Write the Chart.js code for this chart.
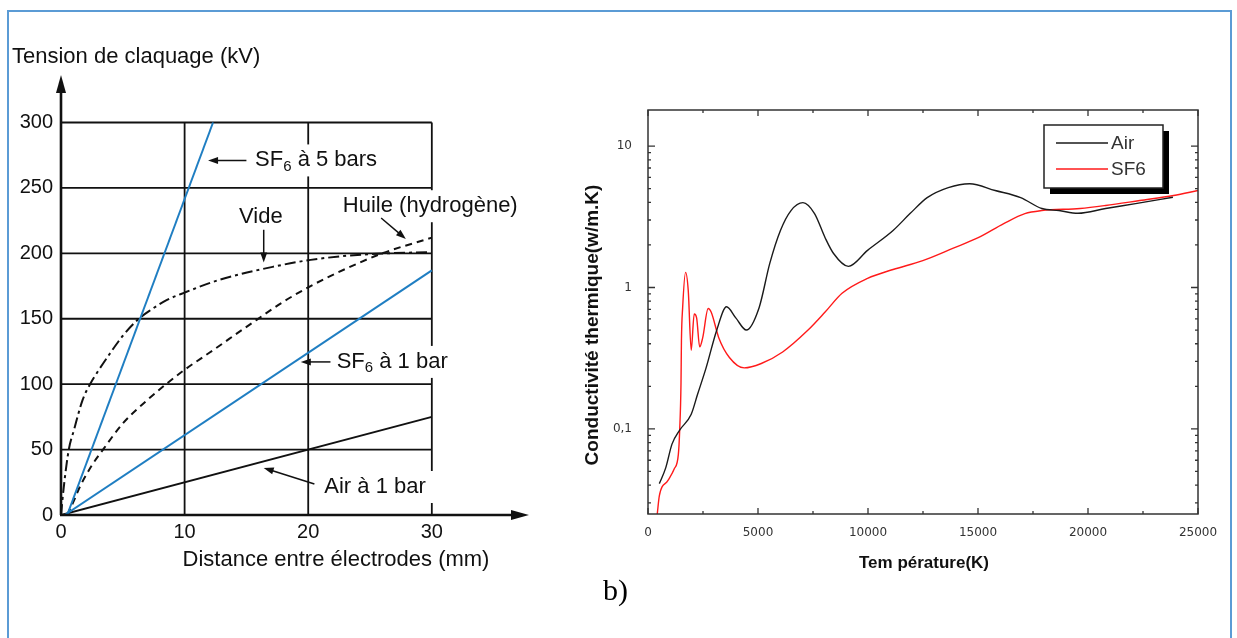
<!DOCTYPE html>
<html>
<head>
<meta charset="utf-8">
<script src="https://cdn.jsdelivr.net/npm/chart.js@4.4.1/dist/chart.umd.min.js"></script>
<style>
  body { margin: 0; background: #fff; }
  #wrap { position: relative; width: 1237px; height: 638px; overflow: hidden; }
  #frame { position: absolute; left: 7px; top: 10px; width: 1221px; height: 700px; border: 2px solid #5b9bd5; }
  canvas { position: absolute; top: 0; }
  #chartA { left: 0; }
  #chartB { left: 560px; }
</style>
</head>
<body>
<div id="wrap">
  <div id="frame"></div>
  <canvas id="chartA" width="560" height="638"></canvas>
  <canvas id="chartB" width="677" height="638"></canvas>
</div>
<script>
// --- a) tension de claquage ---
const distTicks = [0, 10, 20, 30];
const kvTicks = [0, 50, 100, 150, 200, 250, 300];

const sf65X = [0.5, 12.3];
const sf65Y = [0, 300];
const sf61X = [0.3, 30];
const sf61Y = [0, 187];
const air1X = [0, 30];
const air1Y = [0, 75];
const videX = [0, 0.22, 0.63, 1.05, 1.75, 2.35, 3, 4, 5, 6.3, 7.3, 8.5, 10, 12.9, 17.3, 20.2, 24.3, 30];
const videY = [0, 21, 50, 65, 88, 100, 110, 124, 137, 150, 157, 164, 170, 180, 190, 195, 199, 201];
const huileX = [0.5, 1, 1.5, 2.5, 3.4, 5, 7, 8.5, 10, 12, 15.8, 18, 20, 23, 26, 30];
const huileY = [0, 10, 21, 38, 50, 70, 88, 100, 111, 124, 149, 163, 174, 188, 200, 212];

// --- b) conductivité thermique ---
const tempTicks = [0, 5000, 10000, 15000, 20000, 25000];
const condTicks = [0.1, 1, 10];
const airT = [515, 805, 1090, 1440, 1965, 2250, 2640, 3120, 3570, 3990, 4470, 5050, 5535, 6020, 6500, 7045, 7570, 8050, 8435, 9110, 9980, 11140, 11910, 12690, 13650, 14620, 15780, 16940, 17900, 18680, 19545, 20800, 22160, 23860];
const airK = [0.041, 0.053, 0.078, 0.098, 0.127, 0.175, 0.27, 0.497, 0.73, 0.61, 0.50, 0.72, 1.48, 2.53, 3.5, 3.98, 3.33, 2.25, 1.74, 1.41, 1.83, 2.53, 3.33, 4.32, 5.09, 5.42, 4.85, 4.32, 3.62, 3.5, 3.35, 3.62, 3.92, 4.35];
const sf6T = [420, 515, 900, 1190, 1380, 1440, 1500, 1520, 1575, 1710, 1830, 1965, 2100, 2210, 2350, 2485, 2735, 2870, 3220, 3700, 4375, 5150, 6120, 7275, 8050, 8820, 9980, 11140, 12490, 13850, 15010, 16170, 17130, 17900, 19640, 20800, 22350, 23890, 25000];
const sf6K = [0.0249, 0.0336, 0.043, 0.052, 0.066, 0.098, 0.21, 0.42, 0.72, 1.28, 0.95, 0.36, 0.65, 0.61, 0.38, 0.44, 0.71, 0.67, 0.44, 0.32, 0.27, 0.29, 0.35, 0.50, 0.67, 0.91, 1.16, 1.34, 1.55, 1.89, 2.25, 2.83, 3.33, 3.5, 3.62, 3.80, 4.12, 4.47, 4.85];

const SANS = "'Liberation Sans', Arial, sans-serif";
const BLUE = '#1f7ec2';
const pts = (xs, ys) => xs.map((x, i) => ({ x: x, y: ys[i] }));

function arrow(ctx, x1, y1, x2, y2) {
    const a = Math.atan2(y2 - y1, x2 - x1);
    ctx.beginPath();
    ctx.moveTo(x1, y1);
    ctx.lineTo(x2 - 6 * Math.cos(a), y2 - 6 * Math.sin(a));
    ctx.stroke();
    ctx.beginPath();
    ctx.moveTo(x2, y2);
    ctx.lineTo(x2 - 10 * Math.cos(a) + 3.5 * Math.sin(a), y2 - 10 * Math.sin(a) - 3.5 * Math.cos(a));
    ctx.lineTo(x2 - 10 * Math.cos(a) - 3.5 * Math.sin(a), y2 - 10 * Math.sin(a) + 3.5 * Math.cos(a));
    ctx.closePath();
    ctx.fill();
}

// texte avec indice (SF6) ; draw=false -> mesure seulement
function richText(ctx, x, y, parts, draw) {
    let cx = x;
    parts.forEach(p => {
        ctx.font = (p.sub ? '15px ' : '22px ') + SANS;
        if (draw) ctx.fillText(p.t, cx, y + (p.sub ? 6 : 0));
        cx += ctx.measureText(p.t).width;
    });
    return cx - x;
}

// annotations du graphique a) (en unités de données)
const notesA = [
    { x: 15.7, y: 271, parts: [{ t: 'SF' }, { t: '6', sub: true }, { t: ' à 5 bars' }], arrow: [15.0, 271, 11.9, 271] },
    { x: 14.4, y: 228, parts: [{ t: 'Vide' }], arrow: [16.4, 218, 16.4, 193] },
    { x: 22.8, y: 236, parts: [{ t: 'Huile (hydrogène)' }], arrow: [25.9, 227, 27.9, 211] },
    { x: 22.3, y: 117, parts: [{ t: 'SF' }, { t: '6', sub: true }, { t: ' à 1 bar' }], arrow: [21.8, 117, 19.4, 117] },
    { x: 21.3, y: 21.4, parts: [{ t: 'Air à 1 bar' }], arrow: [20.5, 23.7, 16.4, 36] }
];

const decorA = {
    id: 'decorA',
    beforeDatasetsDraw(chart) {
        const { ctx, scales: { x, y } } = chart;
        ctx.save();
        // grille
        ctx.strokeStyle = '#111';
        ctx.lineWidth = 1.8;
        kvTicks.slice(1).forEach(v => {
            ctx.beginPath();
            ctx.moveTo(x.getPixelForValue(0), y.getPixelForValue(v));
            ctx.lineTo(x.getPixelForValue(30), y.getPixelForValue(v));
            ctx.stroke();
        });
        distTicks.slice(1).forEach(v => {
            ctx.beginPath();
            ctx.moveTo(x.getPixelForValue(v), y.getPixelForValue(0));
            ctx.lineTo(x.getPixelForValue(v), y.getPixelForValue(300));
            ctx.stroke();
        });
        // étiquettes
        ctx.textBaseline = 'middle';
        ctx.textAlign = 'left';
        notesA.forEach(n => {
            const px = x.getPixelForValue(n.x), py = y.getPixelForValue(n.y);
            const w = richText(ctx, px, py, n.parts, false);
            ctx.fillStyle = '#fff';
            ctx.fillRect(px - 10, py - 16, w + 20, 32);
            ctx.fillStyle = '#111';
            richText(ctx, px, py, n.parts, true);
            ctx.strokeStyle = '#111';
            ctx.lineWidth = 1.5;
            const a = n.arrow;
            arrow(ctx, x.getPixelForValue(a[0]), y.getPixelForValue(a[1]), x.getPixelForValue(a[2]), y.getPixelForValue(a[3]));
        });
        ctx.restore();
    },
    afterDatasetsDraw(chart) {
        const { ctx, chartArea: ca, scales: { x, y } } = chart;
        const x0 = x.getPixelForValue(0), y0 = y.getPixelForValue(0);
        ctx.save();
        ctx.strokeStyle = '#111';
        ctx.fillStyle = '#111';
        ctx.lineWidth = 2.6;
        ctx.beginPath();
        ctx.moveTo(x0, y0);
        ctx.lineTo(x0, ca.top + 12);
        ctx.moveTo(x0 - 1, y0);
        ctx.lineTo(ca.right - 12, y0);
        ctx.stroke();
        ctx.beginPath();
        ctx.moveTo(x0, ca.top - 3);
        ctx.lineTo(x0 - 5, ca.top + 15);
        ctx.lineTo(x0 + 5, ca.top + 15);
        ctx.closePath();
        ctx.fill();
        ctx.beginPath();
        ctx.moveTo(ca.right + 2, y0);
        ctx.lineTo(ca.right - 16, y0 - 5);
        ctx.lineTo(ca.right - 16, y0 + 5);
        ctx.closePath();
        ctx.fill();
        // titres
        ctx.font = '22px ' + SANS;
        ctx.textBaseline = 'alphabetic';
        ctx.textAlign = 'left';
        ctx.fillText('Tension de claquage (kV)', 12, 63);
        ctx.textAlign = 'center';
        ctx.textBaseline = 'middle';
        ctx.fillText('Distance entre électrodes (mm)', 336, 560);
        ctx.restore();
    }
};

const lineA = (data, color, dash, smooth) => ({
    data: data,
    showLine: true,
    borderColor: color,
    borderWidth: 2,
    borderDash: dash,
    pointRadius: 0,
    cubicInterpolationMode: smooth ? 'monotone' : 'default',
    tension: 0
});

new Chart(document.getElementById('chartA'), {
    type: 'scatter',
    data: {
        datasets: [
            lineA(pts(sf65X, sf65Y), BLUE, [], false),
            lineA(pts(sf61X, sf61Y), BLUE, [], false),
            lineA(pts(air1X, air1Y), '#111', [], false),
            lineA(pts(videX, videY), '#111', [11, 4, 3, 4], true),
            lineA(pts(huileX, huileY), '#111', [7, 5], true)
        ]
    },
    options: {
        responsive: false,
        animation: false,
        layout: { padding: { top: 78, right: 33, left: 0, bottom: 0 } },
        plugins: { legend: { display: false }, tooltip: { enabled: false } },
        scales: {
            x: {
                type: 'linear', min: 0, max: 37.7,
                grid: { display: false, drawTicks: false }, border: { display: false },
                afterBuildTicks: s => { s.ticks = distTicks.map(v => ({ value: v })); },
                afterFit: s => { s.height = 123; },
                ticks: { color: '#111', font: { family: SANS, size: 20 }, padding: 5, maxRotation: 0, autoSkip: false }
            },
            y: {
                type: 'linear', min: 0, max: 334,
                grid: { display: false, drawTicks: false }, border: { display: false },
                afterBuildTicks: s => { s.ticks = kvTicks.map(v => ({ value: v })); },
                afterFit: s => { s.width = 61; },
                ticks: { color: '#111', font: { family: SANS, size: 20 }, padding: 8, autoSkip: false }
            }
        }
    },
    plugins: [decorA]
});

// --- b) ---
const decorB = {
    id: 'decorB',
    afterDatasetsDraw(chart) {
        const { ctx, chartArea: ca, scales: { x, y } } = chart;
        ctx.save();
        ctx.strokeStyle = '#333';
        ctx.lineWidth = 1.5;
        ctx.strokeRect(ca.left, ca.top, ca.right - ca.left, ca.bottom - ca.top);
        ctx.lineWidth = 1.3;
        // graduations vers l'intérieur
        for (let t = 0; t <= 25000; t += 2500) {
            const px = x.getPixelForValue(t), len = t % 5000 === 0 ? 6 : 3;
            ctx.beginPath();
            ctx.moveTo(px, ca.bottom); ctx.lineTo(px, ca.bottom - len);
            ctx.moveTo(px, ca.top); ctx.lineTo(px, ca.top + len);
            ctx.stroke();
        }
        [0.01, 0.1, 1, 10].forEach(d => {
            for (let m = 1; m <= 9; m++) {
                const v = d * m;
                if (v < y.min || v > y.max) continue;
                const py = y.getPixelForValue(v), len = m === 1 ? 7 : 3;
                ctx.beginPath();
                ctx.moveTo(ca.left, py); ctx.lineTo(ca.left + len, py);
                ctx.moveTo(ca.right, py); ctx.lineTo(ca.right - len, py);
                ctx.stroke();
            }
        });
        // légende
        const lx = 484, ly = 125, lw = 119, lh = 63;
        ctx.fillStyle = '#000';
        ctx.fillRect(lx + 6, ly + 6, lw, lh);
        ctx.fillStyle = '#fff';
        ctx.fillRect(lx, ly, lw, lh);
        ctx.strokeStyle = '#222';
        ctx.lineWidth = 1.5;
        ctx.strokeRect(lx, ly, lw, lh);
        ctx.font = '19px ' + SANS;
        ctx.textBaseline = 'middle';
        ctx.textAlign = 'left';
        chart.data.datasets.forEach((ds, i) => {
            const yy = ly + 18 + i * 26;
            ctx.strokeStyle = ds.borderColor;
            ctx.lineWidth = 1.5;
            ctx.beginPath();
            ctx.moveTo(lx + 12, yy); ctx.lineTo(lx + 64, yy);
            ctx.stroke();
            ctx.fillStyle = '#333';
            ctx.fillText(ds.label, lx + 67, yy + 1);
        });
        // titres
        ctx.fillStyle = '#111';
        ctx.font = 'bold 17px ' + SANS;
        ctx.textAlign = 'center';
        ctx.fillText('Tem pérature(K)', 364, 563);
        ctx.save();
        ctx.translate(33, 325);
        ctx.rotate(-Math.PI / 2);
        ctx.font = 'bold 19px ' + SANS;
        ctx.fillText('Conductivité thermique(w/m.K)', 0, 0);
        ctx.restore();
        ctx.font = "30px 'Liberation Serif', 'Times New Roman', serif";
        ctx.textAlign = 'left';
        ctx.textBaseline = 'alphabetic';
        ctx.fillStyle = '#000';
        ctx.fillText('b)', 43, 600);
        ctx.restore();
    }
};

new Chart(document.getElementById('chartB'), {
    type: 'scatter',
    data: {
        datasets: [
            { label: 'Air', data: pts(airT, airK), showLine: true, borderColor: '#1a1a1a', borderWidth: 1.4, pointRadius: 0, cubicInterpolationMode: 'monotone' },
            { label: 'SF6', data: pts(sf6T, sf6K), showLine: true, borderColor: '#ff1a1a', borderWidth: 1.4, pointRadius: 0, cubicInterpolationMode: 'monotone' }
        ]
    },
    options: {
        responsive: false,
        animation: false,
        layout: { padding: { top: 110, right: 39, left: 0, bottom: 0 } },
        plugins: { legend: { display: false }, tooltip: { enabled: false } },
        scales: {
            x: {
                type: 'linear', min: 0, max: 25000,
                grid: { display: false, drawTicks: false }, border: { display: false },
                afterBuildTicks: s => { s.ticks = tempTicks.map(v => ({ value: v })); },
                afterFit: s => { s.height = 124; },
                ticks: { color: '#333', font: { family: "'DejaVu Sans', sans-serif", size: 12 }, padding: 12, maxRotation: 0, autoSkip: false, callback: v => String(v) }
            },
            y: {
                type: 'logarithmic', min: 0.025, max: 18,
                grid: { display: false, drawTicks: false }, border: { display: false },
                afterBuildTicks: s => { s.ticks = condTicks.map(v => ({ value: v })); },
                afterFit: s => { s.width = 88; },
                ticks: { color: '#333', font: { family: "'DejaVu Sans', sans-serif", size: 12 }, padding: 16, autoSkip: false, callback: v => String(v).replace('.', ',') }
            }
        }
    },
    plugins: [decorB]
});
</script>
</body>
</html>
